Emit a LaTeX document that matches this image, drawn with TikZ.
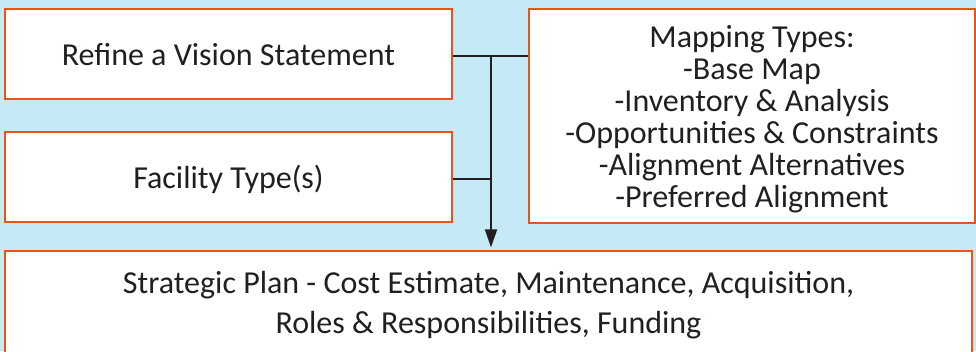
\documentclass[tikz,border=0pt]{standalone}
\usepackage{fontspec}
\setmainfont{Carlito}[Ligatures=Common]
\usetikzlibrary{arrows.meta}
\definecolor{bgblue}{RGB}{198,233,248}
\definecolor{boxorange}{RGB}{229,86,26}
\definecolor{ink}{RGB}{35,31,32}
\tikzset{
  box/.style={draw=boxorange, line width=2.2pt, fill=white, inner sep=0pt},
  txt/.style={text=ink, inner sep=0pt, align=center, anchor=base, font=\fontsize{32}{32}\selectfont},
  conn/.style={draw=ink, line width=2pt},
}
\begin{document}
\begin{tikzpicture}[x=1pt,y=1pt]
\fill[bgblue] (0,0) rectangle (976,-351);
\useasboundingbox (0,0) rectangle (976,-351);
\node[box, minimum width=447pt, minimum height=90pt] (b1) at (228.5,-54) {};
\node[box, minimum width=447pt, minimum height=90pt] (b2) at (228.5,-177) {};
\node[box, minimum width=446pt, minimum height=214pt] (map) at (752,-116) {};
\node[box, minimum width=967pt, minimum height=111pt] (plan) at (488.5,-306.5) {};
\node[txt] (t1) at (228.5,-65.7) {Refine a Vision Statement};
\node[txt] (t2) at (228.5,-188) {Facility Type(s)};
\node[txt] (t3) at (752,-207) {Mapping Types:\\-Base Map\\-Inventory \& Analysis\\-Opportunities \& Constraints\\-Alignment Alternatives\\-Preferred Alignment};
\node[txt, font=\fontsize{32}{40}\selectfont] (t4) at (488.5,-333) {Strategic Plan - Cost Estimate, Maintenance, Acquisition,\\Roles \& Responsibilities, Funding};
\coordinate (j1) at (491,-56);
\coordinate (j2) at (491,-179);
\draw[conn] (b1.east |- j1) -- (map.west |- j1);
\draw[conn] (b2.east |- j2) -- (j2);
\draw[conn, -{Triangle[length=18pt,width=12pt]}, shorten >=2.5pt] (j1) -- (j1 |- plan.north);
\end{tikzpicture}
\end{document}
